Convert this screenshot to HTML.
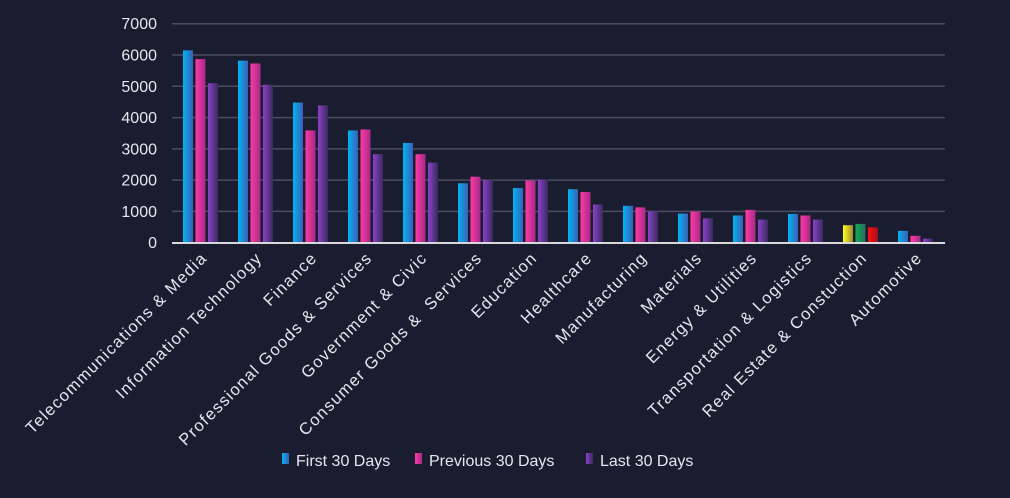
<!DOCTYPE html>
<html><head><meta charset="utf-8"><style>
html,body{margin:0;padding:0;background:#1a1d30;}
svg text{font-family:"Liberation Sans",sans-serif;fill:#e6e6ee;}
</style></head><body>
<svg id="c" width="1010" height="493" xmlns="http://www.w3.org/2000/svg">
<defs>
<linearGradient id="gb" x1="0" x2="1" y1="0" y2="0"><stop offset="0" stop-color="#00b4f2"/><stop offset="1" stop-color="#3a5fb8"/></linearGradient>
<linearGradient id="gp" x1="0" x2="1" y1="0" y2="0"><stop offset="0" stop-color="#ff3aa6"/><stop offset="1" stop-color="#a52a86"/></linearGradient>
<linearGradient id="gv" x1="0" x2="1" y1="0" y2="0"><stop offset="0" stop-color="#8a42c8"/><stop offset="1" stop-color="#3a2a5e"/></linearGradient>
<linearGradient id="gy" x1="0" x2="1" y1="0" y2="0"><stop offset="0" stop-color="#ffff20"/><stop offset="1" stop-color="#a08a30"/></linearGradient>
<linearGradient id="gg" x1="0" x2="1" y1="0" y2="0"><stop offset="0" stop-color="#10b050"/><stop offset="1" stop-color="#2a6a60"/></linearGradient>
<linearGradient id="gr" x1="0" x2="1" y1="0" y2="0"><stop offset="0" stop-color="#ff1010"/><stop offset="1" stop-color="#a01020"/></linearGradient>
</defs>
</svg>
<script>
var s=document.getElementById('c'),h='';
var y0=242.7,k=31.28/1000;
for(var i=1;i<=7;i++){var y=y0-i*1000*k;h+='<line x1="172" x2="945" y1="'+y+'" y2="'+y+'" stroke="#4a4d62" stroke-width="1.5"/>';}
for(var i=0;i<=7;i++){var y=y0-i*1000*k;h+='<text x="157" y="'+(y+5.5)+'" text-anchor="end" font-size="16">'+(i*1000)+'</text>';}
var d=[["Telecommunications & Media",6150,5870,5100],["Information Technology",5820,5730,5050],["Finance",4480,3590,4390],["Professional Goods & Services",3590,3620,2830],["Government & Civic",3190,2830,2560],["Consumer Goods &  Services",1900,2110,2010],["Education",1750,1990,2020],["Healthcare",1710,1620,1220],["Manufacturing",1180,1130,1000],["Materials",930,1000,780],["Energy & Utilities",870,1050,740],["Transportation & Logistics",920,870,740],["Real Estate & Constuction",560,600,490],["Automotive",380,220,130]];
for(var j=0;j<d.length;j++){var x=183+55*j;var g=j==12?['gy','gg','gr']:['gb','gp','gv'];
for(var b=0;b<3;b++){var v=d[j][b+1],hh=v*k;h+='<rect x="'+(x+b*12.5)+'" y="'+(y0-hh)+'" width="10" height="'+hh+'" fill="url(#'+g[b]+')"/>';}
var cx=x+19;h+='<text transform="translate('+(cx+6)+',259) rotate(-45)" text-anchor="end" font-size="16.5" letter-spacing="1.3" style="white-space:pre">'+d[j][0].replace(/&/g,'&amp;')+'</text>';}
h+='<line x1="172" x2="945" y1="243" y2="243" stroke="#d8d8dc" stroke-width="2"/>';
h+='<rect x="282" y="453" width="7" height="11" fill="url(#gb)"/><text x="296" y="466" font-size="16">First 30 Days</text>';
h+='<rect x="415" y="453" width="7" height="11" fill="url(#gp)"/><text x="429" y="466" font-size="16">Previous 30 Days</text>';
h+='<rect x="586" y="453" width="7" height="11" fill="url(#gv)"/><text x="600" y="466" font-size="16">Last 30 Days</text>';
s.insertAdjacentHTML('beforeend',h);
</script>
</body></html>
